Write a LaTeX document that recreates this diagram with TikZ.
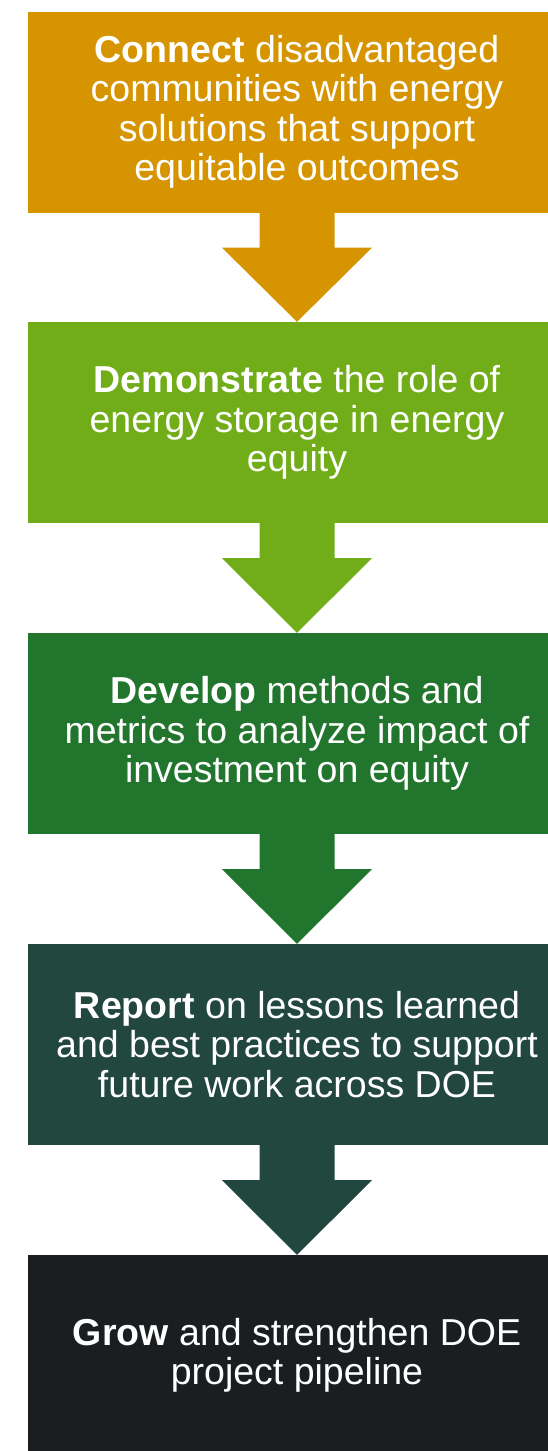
\documentclass[tikz,border=0pt]{standalone}
\usepackage{fontspec}
\setmainfont{Liberation Sans}
\definecolor{cA}{RGB}{214,149,0}
\definecolor{cB}{RGB}{112,173,24}
\definecolor{cC}{RGB}{33,117,45}
\definecolor{cD}{RGB}{34,71,62}
\definecolor{cE}{RGB}{27,30,32}
\tikzset{
  stepbox/.style={rectangle, inner sep=0pt, minimum width=538pt, minimum height=201pt,
    text=white, align=center, font=\fontsize{37.5}{39.5}\selectfont},
}
\newcommand{\downarrowshape}[3]{%
  \fill[#3] ([xshift=-37.5pt]#1.south) -- ([xshift=-37.5pt,yshift=-35pt]#1.south)
    -- ([xshift=-75pt,yshift=-35pt]#1.south) -- (#2.north)
    -- ([xshift=75pt,yshift=-35pt]#1.south) -- ([xshift=37.5pt,yshift=-35pt]#1.south)
    -- ([xshift=37.5pt]#1.south) -- cycle;}
\begin{document}
\begin{tikzpicture}[x=1pt,y=-1pt]
\useasboundingbox (0,0) rectangle (548,1451);
\clip (0,0) rectangle (548,1451);
\node[stepbox, fill=cA] (b1) at (297,112) {\textbf{Connect} disadvantaged\\communities with energy\\solutions that support\\equitable outcomes};
\node[stepbox, fill=cB] (b2) at (297,422.5) {\textbf{Demonstrate} the role of\\energy storage in energy\\equity};
\node[stepbox, fill=cC] (b3) at (297,733.5) {\textbf{Develop} methods and\\metrics to analyze impact of\\investment on equity};
\node[stepbox, fill=cD] (b4) at (297,1044.5) {\textbf{Report} on lessons learned\\and best practices to support\\future work across DOE};
\node[stepbox, fill=cE] (b5) at (297,1355.5) {\textbf{Grow} and strengthen DOE\\project pipeline};
\downarrowshape{b1}{b2}{cA}
\downarrowshape{b2}{b3}{cB}
\downarrowshape{b3}{b4}{cC}
\downarrowshape{b4}{b5}{cD}
\end{tikzpicture}
\end{document}
